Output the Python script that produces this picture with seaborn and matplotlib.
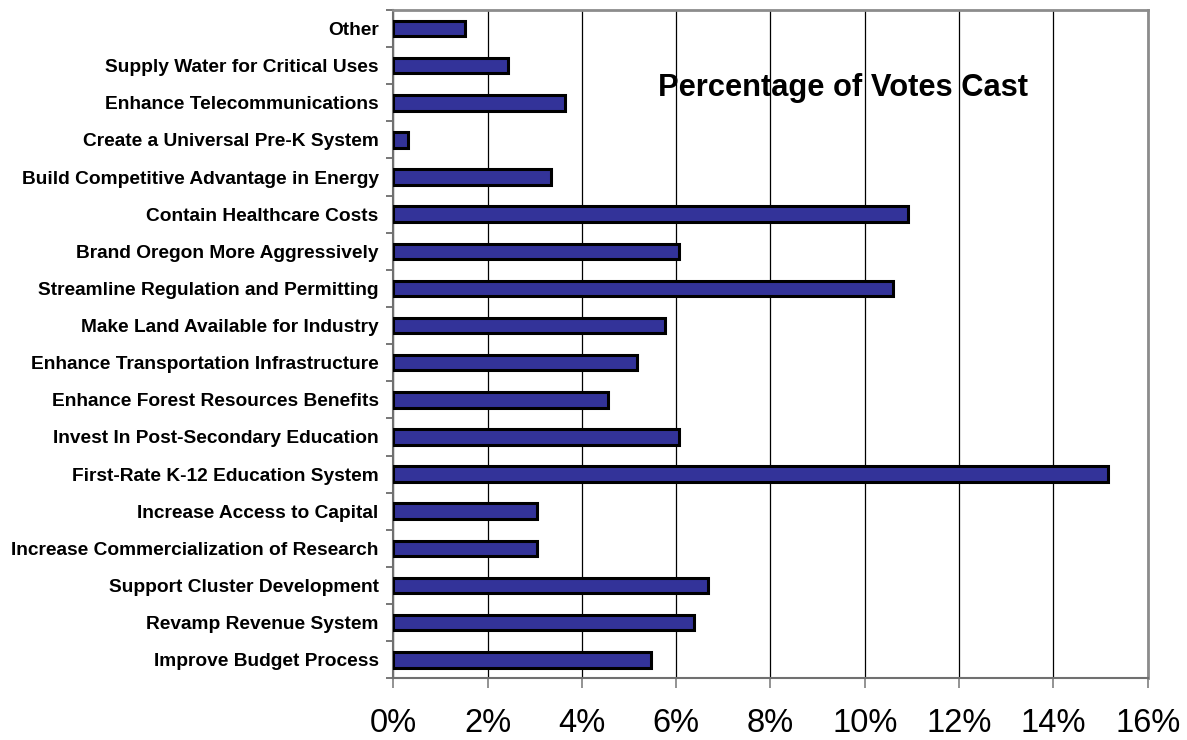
import matplotlib
matplotlib.use("Agg")
import matplotlib.pyplot as plt
import seaborn as sns
import pandas as pd
import numpy as np
from matplotlib.ticker import FuncFormatter, FixedLocator

categories = [
    "Other",
    "Supply Water for Critical Uses",
    "Enhance Telecommunications",
    "Create a Universal Pre-K System",
    "Build Competitive Advantage in Energy",
    "Contain Healthcare Costs",
    "Brand Oregon More Aggressively",
    "Streamline Regulation and Permitting",
    "Make Land Available for Industry",
    "Enhance Transportation Infrastructure",
    "Enhance Forest Resources Benefits",
    "Invest In Post-Secondary Education",
    "First-Rate K-12 Education System",
    "Increase Access to Capital",
    "Increase Commercialization of Research",
    "Support Cluster Development",
    "Revamp Revenue System",
    "Improve Budget Process",
]
values = [1.52, 2.44, 3.64, 0.31, 3.34, 10.91, 6.06, 10.60, 5.76, 5.16,
          4.55, 6.06, 15.15, 3.04, 3.04, 6.68, 6.37, 5.47]
x_ticks = [0, 2, 4, 6, 8, 10, 12, 14, 16]
title = "Percentage of Votes Cast"

sns.set_theme(style="white")
plt.rcParams['font.family'] = ['Liberation Sans', 'DejaVu Sans']
plt.rcParams['text.color'] = 'black'
plt.rcParams['xtick.labelcolor'] = 'black'
plt.rcParams['ytick.labelcolor'] = 'black'

df = pd.DataFrame({"category": categories, "value": values})

fig = plt.figure(figsize=(11.87, 7.40), dpi=100)
ax = fig.add_axes([0.3313, 0.0834, 0.6356, 0.9031])

sns.barplot(data=df, x="value", y="category", orient="h", order=categories,
            color="#333399", saturation=1, width=0.42,
            edgecolor="black", linewidth=2.2, ax=ax, zorder=3)

ax.set_xlim(0, 16)
ax.set_ylim(len(categories) - 0.5, -0.5)
ax.set_xlabel("")
ax.set_ylabel("")

ax.xaxis.set_major_locator(FixedLocator(x_ticks))
ax.xaxis.set_major_formatter(FuncFormatter(lambda v, p: f"{int(round(v))}%"))
ax.grid(axis="x", color="black", linewidth=0.9, zorder=0)
ax.set_axisbelow(True)

ax.tick_params(axis="x", which="major", direction="out", length=7.5, width=1.2,
               color="#808080", labelsize=23.5, pad=14, bottom=True,
               labelcolor="black")
ax.tick_params(axis="y", which="major", length=0, pad=10.5, labelsize=13.8,
               labelcolor="black")
for lbl in ax.get_yticklabels():
    lbl.set_fontweight("bold")

bounds = np.arange(-0.5, len(categories) + 0.5, 1.0)
ax.yaxis.set_minor_locator(FixedLocator(bounds))
ax.tick_params(axis="y", which="minor", direction="out", length=5, width=1.2,
               color="#606060", left=True)

for side in ["top", "right"]:
    ax.spines[side].set_color("#8c8c8c")
    ax.spines[side].set_linewidth(2)
for side in ["left", "bottom"]:
    ax.spines[side].set_color("#707070")
    ax.spines[side].set_linewidth(1.5)

ax.text(0.351, 0.883, title, transform=ax.transAxes, fontsize=22.2,
        fontweight="bold", ha="left", va="center", color="black", zorder=5)

fig.savefig("out.png", dpi=100)
